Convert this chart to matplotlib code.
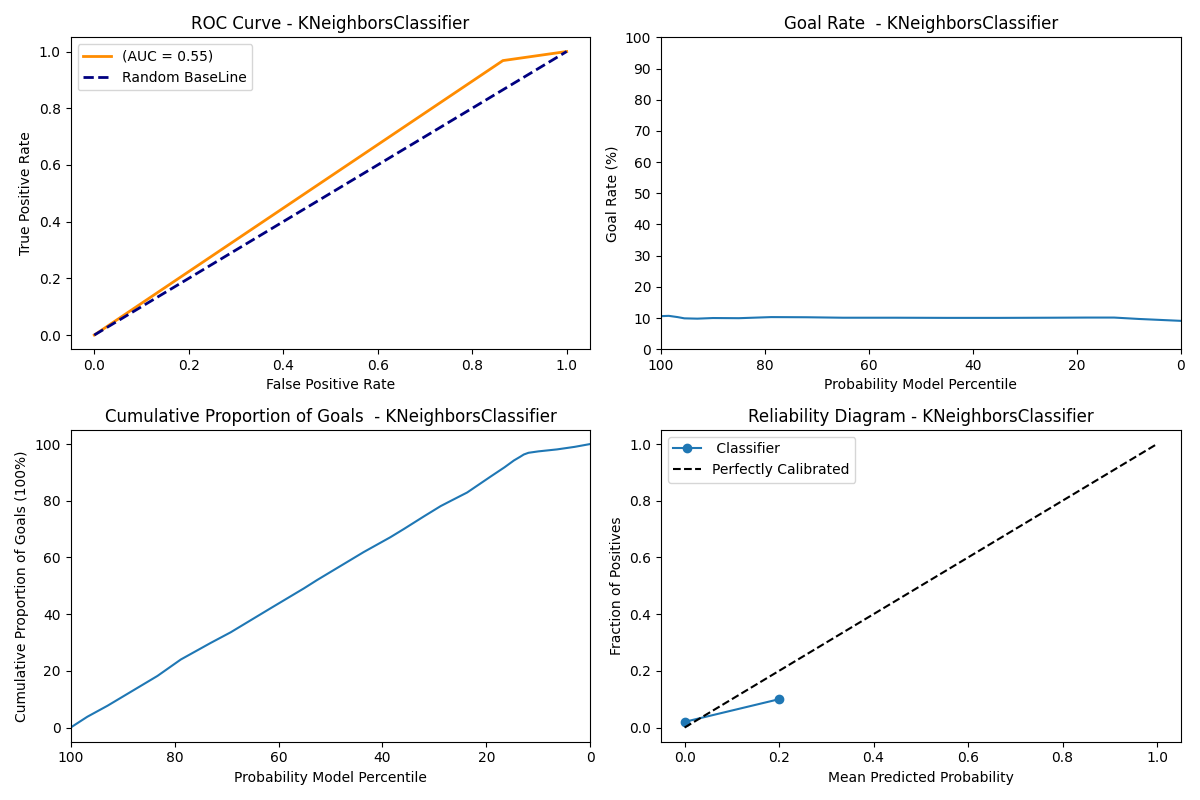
import matplotlib
matplotlib.use("Agg")
import matplotlib.pyplot as plt
import numpy as np

model_name = "KNeighborsClassifier"

# ROC curve
fpr = [0.0, 0.865, 1.0]
tpr = [0.0, 0.968, 1.0]
auc_value = 0.55

# Goal rate by percentile
goal_pct = [100, 98.5, 96.8, 95.5, 93, 90, 85, 78.8, 72, 65, 55, 45, 35, 25, 18, 12.8, 8, 4, 0]
goal_rate = [10.6, 10.7, 10.3, 9.9, 9.8, 10.0, 9.95, 10.3, 10.25, 10.1, 10.1, 10.05, 10.05, 10.1, 10.15, 10.15, 9.7, 9.4, 9.1]

# Cumulative proportion of goals
cum_pct = [100, 96.8, 92.9, 89.7, 83.3, 78.8, 73.1, 69.2, 61.5, 55.1, 52.6, 43.6, 38.5, 35.9,
           32, 28.8, 26.9, 23.7, 19.2, 16.5, 14.7, 13.5, 12.8, 11.9, 10, 6.4, 3, 0]
cum_goals = [0, 3.8, 7.7, 11.2, 18.2, 24, 29.8, 33.6, 42.1, 49.1, 52, 61.9, 67.1, 70,
             74.5, 78.1, 79.9, 82.9, 88.5, 91.8, 94.2, 95.5, 96.3, 96.9, 97.4, 98.1, 99.0, 100]

# Reliability diagram
mean_pred = [0.0, 0.2]
frac_pos = [0.02, 0.1]

fig, axes = plt.subplots(2, 2, figsize=(12, 8))

ax = axes[0, 0]
ax.plot(fpr, tpr, color="darkorange", lw=2, label=f"(AUC = {auc_value:.2f})")
ax.plot([0, 1], [0, 1], color="navy", lw=2, linestyle="--", label="Random BaseLine")
ax.set_xlabel("False Positive Rate")
ax.set_ylabel("True Positive Rate")
ax.set_title(f"ROC Curve - {model_name}")
ax.legend(loc="upper left")

ax = axes[0, 1]
ax.plot(goal_pct, goal_rate)
ax.set_xlim(100, 0)
ax.set_ylim(0, 100)
ax.set_yticks(np.arange(0, 101, 10))
ax.set_xlabel("Probability Model Percentile")
ax.set_ylabel("Goal Rate (%)")
ax.set_title(f"Goal Rate  - {model_name}")

ax = axes[1, 0]
ax.plot(cum_pct, cum_goals)
ax.set_xlim(100, 0)
ax.set_xlabel("Probability Model Percentile")
ax.set_ylabel("Cumulative Proportion of Goals (100%)")
ax.set_title(f"Cumulative Proportion of Goals  - {model_name}")

ax = axes[1, 1]
ax.plot(mean_pred, frac_pos, marker="o", label=" Classifier")
ax.plot([0, 1], [0, 1], "k--", label="Perfectly Calibrated")
ax.set_xlabel("Mean Predicted Probability")
ax.set_ylabel("Fraction of Positives")
ax.set_title(f"Reliability Diagram - {model_name}")
ax.legend(loc="upper left")

plt.tight_layout()
fig.savefig("out.png", dpi=100)
